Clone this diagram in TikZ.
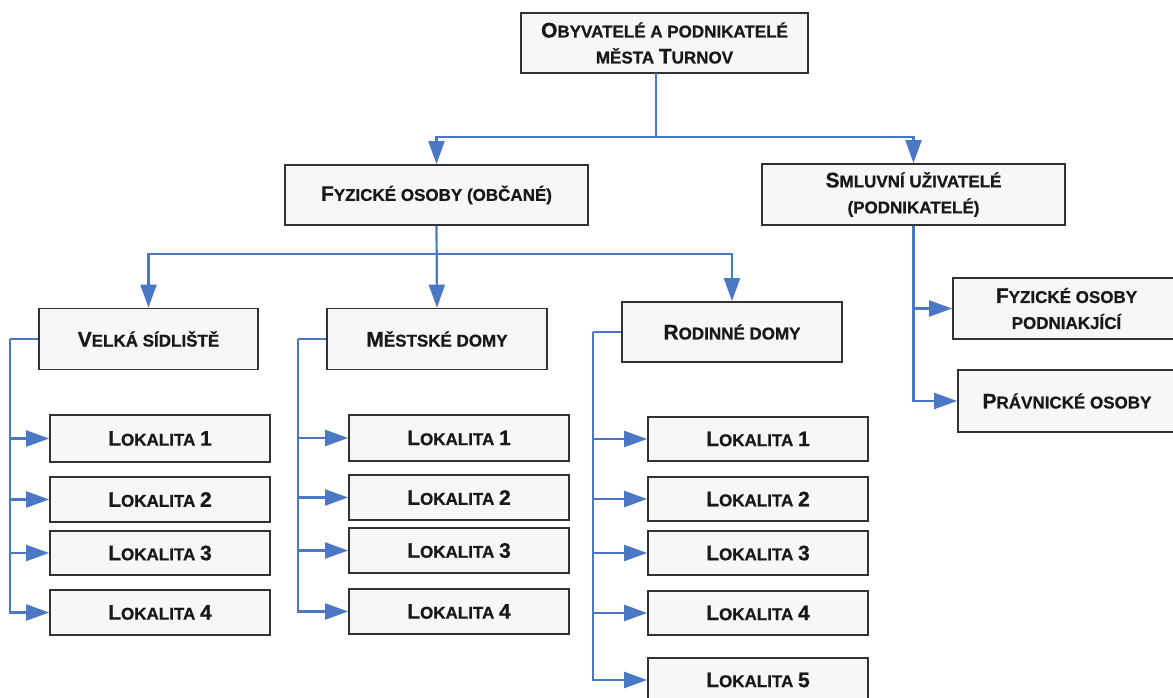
\documentclass[tikz,border=0pt]{standalone}
\usepackage{fontspec}
\setmainfont{Liberation Sans}[BoldFeatures={FakeBold=0.8}]
\usetikzlibrary{arrows.meta}

\definecolor{lineblue}{RGB}{74,120,196}
\definecolor{boxfill}{RGB}{247,247,246}
\definecolor{boxdraw}{RGB}{50,50,50}
\definecolor{boxtext}{RGB}{25,25,25}

% fake small caps: a full-size capital followed by smaller capitals
\newcommand\capL[1]{{\fontsize{21}{26}\selectfont #1}}
\newcommand\capS[1]{{\fontsize{17}{26}\selectfont #1}}

\tikzset{
  box/.style={draw=boxdraw, line width=1.8pt, fill=boxfill, inner sep=0pt,
    align=center, font=\bfseries\fontsize{17}{26}\selectfont, text=boxtext},
  wide/.style={box, minimum width=303pt, minimum height=60pt},
  mid/.style={box, minimum width=220pt, minimum height=61pt},
  loc/.style={box, minimum width=220pt, minimum height=45pt},
  link/.style={draw=lineblue, line width=2.2pt},
  arr/.style={link, -{Triangle[length=23pt, width=16pt]}}
}

\begin{document}
\begin{tikzpicture}[x=1pt, y=-1pt]
\useasboundingbox (0,0) rectangle (1173,698);
\clip (0,0) rectangle (1173,698);
\fill[white] (0,0) rectangle (1173,698);

% top level
\node[box, minimum width=287pt, minimum height=60pt] (top) at (664.5,43)
  {\capL{O}\capS{BYVATELÉ A PODNIKATELÉ}\\\capS{MĚSTA }\capL{T}\capS{URNOV}};

% second level
\node[wide] (fo) at (436.5,195) {\capL{F}\capS{YZICKÉ OSOBY (OBČANÉ)}};
\node[wide, minimum height=61pt] (su) at (913.5,194.5)
  {\capL{S}\capS{MLUVNÍ UŽIVATELÉ}\\\capS{(PODNIKATELÉ)}};

% third level
\node[mid, minimum width=219pt] (vs) at (148.5,339) {\capL{V}\capS{ELKÁ SÍDLIŠTĚ}};
\node[mid] (md) at (437,339) {\capL{M}\capS{ĚSTSKÉ DOMY}};
\node[mid, minimum height=60pt] (rd) at (732,332) {\capL{R}\capS{ODINNÉ DOMY}};
\node[box, minimum width=227pt, minimum height=61pt] (fop) at (1066.5,308.5)
  {\capL{F}\capS{YZICKÉ OSOBY}\\\capS{PODNIAKJÍCÍ}};
\node[box, minimum width=218pt, minimum height=62pt] (pr) at (1067,401)
  {\capL{P}\capS{RÁVNICKÉ OSOBY}};

% localities
\node[loc, minimum height=47pt] (a1) at (160,438.5) {\capL{L}\capS{OKALITA }\capL{1}};
\node[loc] (a2) at (160,499.5) {\capL{L}\capS{OKALITA }\capL{2}};
\node[loc, minimum height=44pt] (a3) at (160,553) {\capL{L}\capS{OKALITA }\capL{3}};
\node[loc] (a4) at (160,612.5) {\capL{L}\capS{OKALITA }\capL{4}};

\node[loc, minimum height=46pt] (b1) at (459,438) {\capL{L}\capS{OKALITA }\capL{1}};
\node[loc] (b2) at (459,497.5) {\capL{L}\capS{OKALITA }\capL{2}};
\node[loc] (b3) at (459,550.5) {\capL{L}\capS{OKALITA }\capL{3}};
\node[loc] (b4) at (459,611.5) {\capL{L}\capS{OKALITA }\capL{4}};

\node[loc, minimum height=44pt] (c1) at (758,439) {\capL{L}\capS{OKALITA }\capL{1}};
\node[loc, minimum height=44pt] (c2) at (758,499) {\capL{L}\capS{OKALITA }\capL{2}};
\node[loc, minimum height=44pt] (c3) at (758,553) {\capL{L}\capS{OKALITA }\capL{3}};
\node[loc, minimum height=44pt] (c4) at (758,613) {\capL{L}\capS{OKALITA }\capL{4}};
\node[loc, minimum height=44pt] (c5) at (758,680) {\capL{L}\capS{OKALITA }\capL{5}};

% junction points of the tree
\coordinate (t0) at (656,73);
\coordinate (j1) at (656,137);
\coordinate (j2) at (436.5,254);
\coordinate (va) at (10,339);
\coordinate (ma) at (298,339);
\coordinate (ra) at (593,332);

% top level to second level
\draw[link] (t0) -- (j1);
\draw[arr] (j1) -| (fo.north);
\draw[arr] (j1) -| (su.north);

% citizens to housing types
\draw[arr] (fo.south) -- (md.north);
\draw[arr] (j2) -| (vs.north);
\draw[arr] (j2) -| (rd.north);

% contract users
\draw[arr] (su.south) |- (fop.west);
\draw[arr] (su.south) |- (pr.west);

% housing types to localities
\draw[link] (vs.west) -- (va);
\foreach \n in {a1,a2,a3,a4} \draw[arr] (va) |- (\n.west);
\draw[link] (md.west) -- (ma);
\foreach \n in {b1,b2,b3,b4} \draw[arr] (ma) |- (\n.west);
\draw[link] (rd.west) -- (ra);
\foreach \n in {c1,c2,c3,c4,c5} \draw[arr] (ra) |- (\n.west);
\end{tikzpicture}
\end{document}
